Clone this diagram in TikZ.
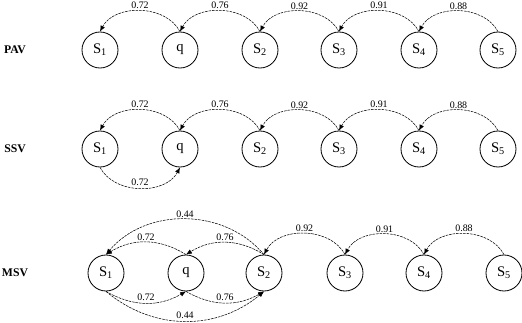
\documentclass[tikz,border=0pt]{standalone}
\usepackage{fontspec}
\setmainfont{Liberation Serif}
\usepackage{tikz}
\usetikzlibrary{arrows.meta}
\tikzset{
    state/.style={circle, draw, line width=0.7pt, minimum size=1.08cm, inner sep=0pt, font=\fontsize{12.5}{14}\selectfont},
    trans/.style={-{Latex[length=5pt,width=4pt]}, dash pattern=on 2.2pt off 0.8pt, line width=0.45pt},
    prob/.style={font=\fontsize{8.5}{10}\selectfont, inner sep=1.5pt},
    rowname/.style={font=\fontsize{10}{12}\selectfont\bfseries}
}

\begin{document}
\begin{tikzpicture}
    \useasboundingbox (0,0) rectangle (15.66,9.66);

    % Row names
    \node[rowname] (pav) at (0.45,8.16) {PAV};
    \node[rowname] (ssv) at (0.45,5.19) {SSV};
    \node[rowname] (msv) at (0.45,1.47) {MSV};

    % PAV states
    \node[state] (pS1) at (3.00,8.16) {S\textsubscript{1}};
    \node[state] (pq)  at (5.40,8.16) {q};
    \node[state] (pS2) at (7.80,8.16) {S\textsubscript{2}};
    \node[state] (pS3) at (10.17,8.16) {S\textsubscript{3}};
    \node[state] (pS4) at (12.57,8.16) {S\textsubscript{4}};
    \node[state] (pS5) at (14.94,8.16) {S\textsubscript{5}};

    % PAV transitions
    \draw[trans] (pq.north)  to[out=118,in=62] node[prob, above] {0.72} (pS1.north);
    \draw[trans] (pS2.north) to[out=118,in=62] node[prob, above] {0.76} (pq.north);
    \draw[trans] (pS3.north) to[out=118,in=62] node[prob, above] {0.92} (pS2.north);
    \draw[trans] (pS4.north) to[out=118,in=62] node[prob, above] {0.91} (pS3.north);
    \draw[trans] (pS5.north) to[out=118,in=62] node[prob, above] {0.88} (pS4.north);

    % SSV states
    \node[state] (sS1) at (3.00,5.19) {S\textsubscript{1}};
    \node[state] (sq)  at (5.40,5.19) {q};
    \node[state] (sS2) at (7.80,5.19) {S\textsubscript{2}};
    \node[state] (sS3) at (10.17,5.19) {S\textsubscript{3}};
    \node[state] (sS4) at (12.57,5.19) {S\textsubscript{4}};
    \node[state] (sS5) at (14.94,5.19) {S\textsubscript{5}};

    % SSV transitions
    \draw[trans] (sq.north)  to[out=118,in=62] node[prob, above] {0.72} (sS1.north);
    \draw[trans] (sS2.north) to[out=118,in=62] node[prob, above] {0.76} (sq.north);
    \draw[trans] (sS3.north) to[out=118,in=62] node[prob, above] {0.92} (sS2.north);
    \draw[trans] (sS4.north) to[out=118,in=62] node[prob, above] {0.91} (sS3.north);
    \draw[trans] (sS5.north) to[out=118,in=62] node[prob, above] {0.88} (sS4.north);
    \draw[trans] (sS1.south) to[out=-62,in=-118] node[prob, above] {0.72} (sq.south);

    % MSV states
    \node[state] (mS1) at (3.18,1.47) {S\textsubscript{1}};
    \node[state] (mq)  at (5.58,1.47) {q};
    \node[state] (mS2) at (7.92,1.47) {S\textsubscript{2}};
    \node[state] (mS3) at (10.35,1.47) {S\textsubscript{3}};
    \node[state] (mS4) at (12.72,1.47) {S\textsubscript{4}};
    \node[state] (mS5) at (15.12,1.47) {S\textsubscript{5}};

    % MSV transitions (top)
    \draw[trans] (mS2.north) to[out=130,in=50] node[prob, above] {0.44} (mS1.north);
    \draw[trans] (mq.north)  to[out=148,in=32] node[prob, above] {0.72} (mS1.north);
    \draw[trans] (mS2.north) to[out=148,in=32] node[prob, above] {0.76} (mq.north);
    \draw[trans] (mS3.north) to[out=118,in=62] node[prob, above] {0.92} (mS2.north);
    \draw[trans] (mS4.north) to[out=118,in=62] node[prob, above] {0.91} (mS3.north);
    \draw[trans] (mS5.north) to[out=118,in=62] node[prob, above] {0.88} (mS4.north);

    % MSV transitions (bottom)
    \draw[trans] (mS1.south) to[out=-30,in=-150] node[prob, above] {0.72} (mq.south);
    \draw[trans] (mq.south)  to[out=-30,in=-150] node[prob, above] {0.76} (mS2.south);
    \draw[trans] (mS1.south) to[out=-40,in=-140] node[prob, above] {0.44} (mS2.south);

\end{tikzpicture}
\end{document}
